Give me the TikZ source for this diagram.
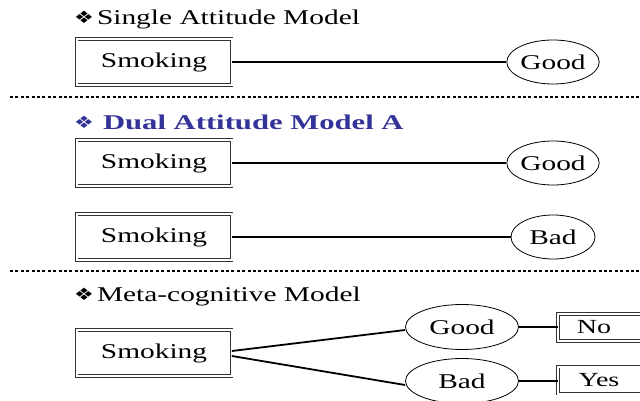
\documentclass[tikz,border=0pt]{standalone}
\usepackage{fontspec}
\usepackage{graphicx}
\setmainfont{Liberation Serif}
\newfontfamily\symfont{DejaVu Sans}
\usetikzlibrary{shapes.geometric}
\definecolor{titleblue}{RGB}{51,51,153}
\newcommand\wide[1]{\scalebox{1.4}[1]{#1}}
\newcommand\bul{{\symfont\fontsize{17}{17}\selectfont\raisebox{1pt}{\scalebox{1.3}[1]{❖}}}}
\tikzset{
  dbox/.style={draw=black!80, double, double distance=2pt, line width=0.7pt, rectangle, inner sep=0pt,
    minimum width=155pt, minimum height=46pt, font=\fontsize{21}{21}\selectfont},
  sbox/.style={draw=black!80, double, double distance=2pt, line width=0.7pt, rectangle, inner sep=0pt,
    minimum width=100pt, minimum height=27pt, font=\fontsize{20}{20}\selectfont},
  ell/.style={draw, ellipse, line width=0.8pt, inner sep=0pt, font=\fontsize{21}{21}\selectfont},
  conn/.style={line width=1.8pt},
  sep/.style={line width=2.6pt, dash pattern=on 3pt off 2.4pt},
  ttl/.style={anchor=west, inner sep=0pt, font=\fontsize{21}{21}\selectfont}
}
\begin{document}
\begin{tikzpicture}[x=1pt,y=1pt]
\useasboundingbox (0,0) rectangle (640,-401);
\clip (0,0) rectangle (640,-401);
% section 1
\node[ttl] (t1) at (74,-19) {\bul\hspace{3pt}\wide{Single Attitude Model}};
\node[dbox] (s1) at (154,-62) {\wide{Smoking}};
\node[ell, minimum width=92pt, minimum height=44pt] (g1) at (553,-62) {\wide{Good}};
\draw[conn] (s1.east) -- (g1.west);
\coordinate (d1a) at (10,-97);
\coordinate (d1b) at (640,-97);
\draw[sep] (d1a) -- (d1b);
% section 2
\node[ttl, text=titleblue, font=\fontsize{21}{21}\selectfont\bfseries] (t2) at (74,-122) {\bul\hspace{9pt}\scalebox{1.46}[1]{Dual Attitude Model A}};
\node[dbox] (s2) at (154,-163) {\wide{Smoking}};
\node[ell, minimum width=92pt, minimum height=44pt] (g2) at (553,-163) {\wide{Good}};
\draw[conn] (s2.east) -- (g2.west);
\node[dbox] (s3) at (154,-237) {\wide{Smoking}};
\node[ell, minimum width=84pt, minimum height=44pt] (b2) at (553,-237) {\wide{Bad}};
\draw[conn] (s3.east) -- (b2.west);
\coordinate (d2a) at (10,-271);
\coordinate (d2b) at (640,-271);
\draw[sep] (d2a) -- (d2b);
% section 3
\node[ttl] (t3) at (74,-296) {\bul\hspace{3pt}\wide{Meta-cognitive Model}};
\node[dbox] (s4) at (154,-353) {\wide{Smoking}};
\node[ell, minimum width=113pt, minimum height=45pt] (g3) at (462,-327) {\wide{Good}};
\node[ell, minimum width=113pt, minimum height=45pt] (b3) at (462,-381) {\wide{Bad}};
\draw[conn] ([yshift=2pt]s4.east) -- ([yshift=-3pt]g3.west);
\draw[conn] ([yshift=-3pt]s4.east) -- ([yshift=-4pt]b3.west);
\node[sbox] (n3) at (608,-327.5) {\hspace{-28pt}\wide{No}};
\node[sbox] (y3) at (608,-380) {\hspace{-18pt}\wide{Yes}};
\draw[conn] (g3.east) -- (g3.east -| n3.west);
\draw[conn] (b3.east) -- (b3.east -| y3.west);
\end{tikzpicture}
\end{document}
